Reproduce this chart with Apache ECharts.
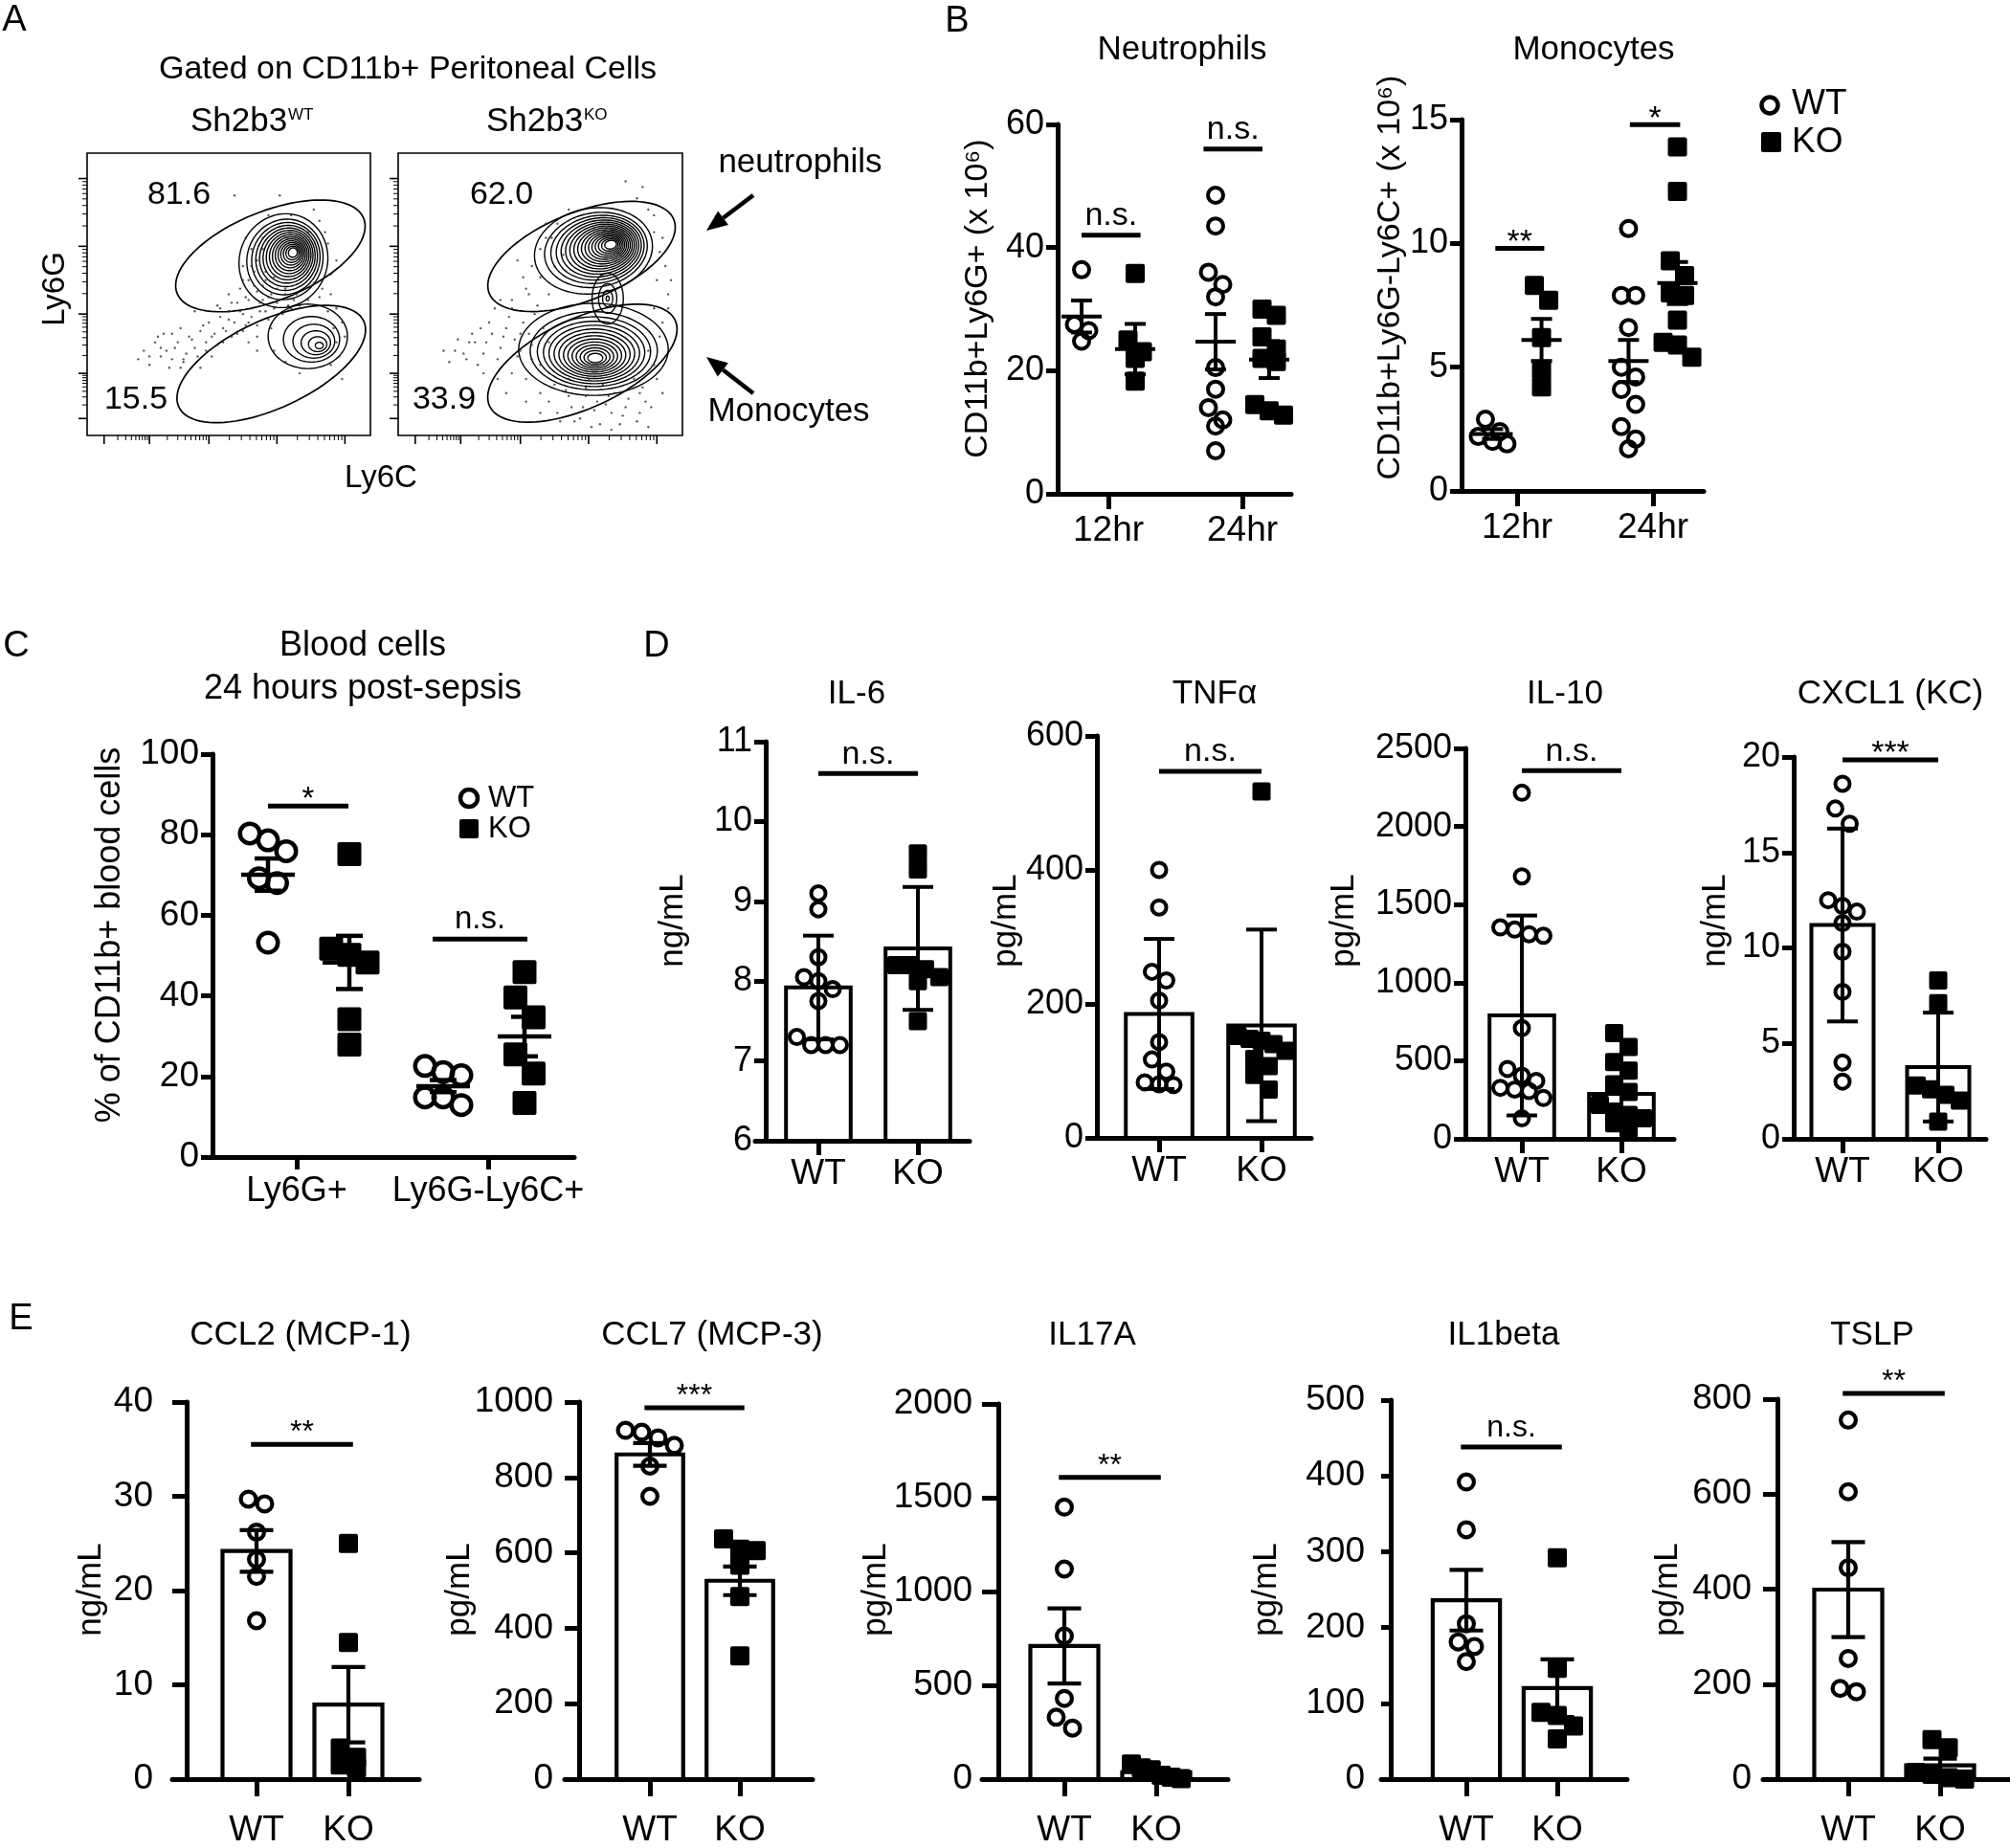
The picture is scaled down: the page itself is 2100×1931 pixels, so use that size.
<!DOCTYPE html>
<html><head><meta charset="utf-8">
<script src="https://cdn.jsdelivr.net/npm/echarts@6.0.0/dist/echarts.min.js"></script>
<style>html,body{margin:0;padding:0;background:#fff;}#chart{width:2100px;height:1931px;}</style>
</head><body><div id="chart"></div>
<script>
// ======================= DATA =======================
// Panel A – flow cytometry (display units 0–100 on Ly6C / Ly6G)
const flowTitle = 'Gated on CD11b+ Peritoneal Cells';
const flowGenotypes = ['WT', 'KO'];
const gatePctWT = ['81.6', '15.5'];
const gatePctKO = ['62.0', '33.9'];
// gates: [cx, cy, semiMajor, semiMinor, angleDeg]
const gatesWT = [[64.7, 63.6, 35.5, 15.8, 22], [65.0, 25.3, 36.0, 15.6, 25]];
const gatesKO = [[64.5, 63.4, 35.0, 15.6, 22], [64.8, 25.6, 36.0, 15.8, 25]];
// density clusters: [cx, cy, rx, ry, angleDeg, peakX, peakY, contourLevels]
const clustersWT = [[69.3, 61.9, 15.5, 16.8, -22, 73.0, 65.1, 15], [77.9, 35.1, 14.0, 11.4, 0, 82.4, 31.5, 6]];
const clustersKO = [[68.7, 65.4, 20.9, 15.1, 10, 75.4, 67.8, 17], [68.7, 30.5, 26.3, 16.3, 0, 69.4, 27.1, 14], [73.7, 48.5, 5.5, 9.0, 0, 73.7, 48.5, 4]];
const eventsWT = [[28,30],[30,27],[32,33],[35,29],[36,35],[38,31],[40,37],[42,33],[43,40],[45,36],[47,42],[48,38],[50,44],[52,40],[53,47],[55,43],[56,49],[58,45],[60,51],[61,47],[62,53],[64,49],[46,46],[50,50],[54,52],[57,55],[59,58],[63,58],[66,56],[70,52],[74,50],[78,48],[82,49],[86,50],[88,45],[90,40],[91,35],[89,28],[86,25],[70,26],[66,30],[60,35],[62,70],[58,66],[64,78],[80,80],[84,72],[88,62],[86,57],[55,60],[52,85],[68,85],[90,20],[75,22],[33,24],[25,35],[22,28],[38,44],[44,28],[40,24],[30,36],[26,31],[34,27],[48,33],[57,40],[63,44],[67,47],[72,45],[55,37],[51,35],
  [18,27],[20,30],[22,25],[24,33],[26,28],[27,36],[29,24],[31,31],[33,38],[34,26],[37,34],[39,28],[41,39],[42,30],[44,35],[46,32],[47,45],[49,37],[50,41],[51,47],[53,36],[54,44],[56,39],[57,48],[58,42],[59,53],[60,39],[61,44],[62,48],[63,55],[64,41],[65,50],[66,45],[67,52],[68,48],[69,43],[70,50],[71,46],[73,48],[75,46],[77,52],[80,54],[83,52],[85,44],[87,38],[88,33],[55,55],[58,60],[60,62],[62,66],[78,72],[82,76],[85,68],[72,78],[68,74],[56,70],[65,38],[60,30],[57,33]];
const eventsKO = [[20,30],[24,27],[27,33],[30,29],[33,36],[36,31],[38,38],[41,34],[44,40],[46,36],[48,43],[51,38],[34,45],[40,48],[45,52],[50,56],[55,60],[58,64],[52,70],[56,75],[60,80],[88,80],[90,72],[92,65],[91,55],[90,45],[92,35],[90,25],[85,15],[80,10],[75,8],[70,12],[65,10],[60,14],[55,18],[50,15],[45,20],[40,22],[62,5],[78,4],[85,8],[93,15],[35,20],[30,22],[45,12],[68,3],[95,50],[94,60],[86,88],[80,90],[50,25],[38,15],[56,8],[72,18],[88,30],[25,33],[29,38],[43,30],[53,33],[47,27],[58,22],[66,17],[83,20],[87,12],[74,14],
  [16,30],[18,26],[21,34],[23,29],[26,36],[28,25],[31,33],[32,40],[35,27],[37,35],[39,42],[42,28],[43,36],[47,32],[49,46],[53,50],[50,8],[53,12],[57,5],[59,16],[61,10],[64,6],[66,14],[69,9],[71,4],[73,11],[76,15],[79,7],[81,13],[84,5],[86,17],[89,10],[91,20],[94,28],[93,40],[95,45],[96,55],[93,70],[90,78],[84,84],[47,60],[44,56],[42,62],[50,66],[54,70],[52,75],[46,50],[40,45],[36,48],[60,20],[67,20],[75,2],[88,3]];
const flowTickPos = [6, 22, 43, 67, 91];

// Panel B – peritoneal counts (x 10^6), mean ± SEM
const timeCats = ['12hr', '24hr'];
const neuWT12 = [36.4, 27.5, 26.5, 24.8];
const neuKO12 = [35.8, 25, 23.1, 22, 18.3];
const neuWT24 = [48.5, 43.5, 36, 34, 32, 20.5, 17, 14, 12, 11, 7];
const neuKO24 = [30, 29, 25.5, 23.5, 22, 21.5, 14.5, 13.5, 12.8];
const neuWTMean = [28.8, 24.7], neuWTSem = [2.6, 4.5];
const neuKOMean = [23.5, 21.8], neuKOSem = [4.1, 3.0];
const neuSig = ['n.s.', 'n.s.'], neuSigLevel = [42, 56];
const monWT12 = [2.9, 2.4, 2.2, 2.0, 1.9];
const monKO12 = [8.3, 7.7, 6.2, 4.9, 4.2];
const monWT24 = [10.6, 7.9, 7.9, 6.6, 5.0, 4.6, 4.1, 3.5, 2.6, 2.1, 1.7];
const monKO24 = [13.9, 12.1, 9.3, 8.7, 8.0, 7.9, 6.9, 6.0, 5.9, 5.4];
const monWTMean = [2.3, 5.25], monWTSem = [0.2, 0.85];
const monKOMean = [6.1, 8.4], monKOSem = [0.85, 0.85];
const monSig = ['**', '*'], monSigLevel = [9.8, 14.8];

// Panel C – blood cells, % of CD11b+, mean ± SEM
const bloodCats = ['Ly6G+', 'Ly6G-Ly6C+'];
const bloodWT1 = [80.3, 78.6, 75.9, 69.2, 68.0, 53.2];
const bloodKO1 = [75.2, 51.7, 50.2, 48.3, 34.2, 27.9];
const bloodWT2 = [22.6, 21.1, 20.3, 14.8, 14.8, 12.9];
const bloodKO2 = [45.9, 39.6, 34.7, 25.5, 20.7, 13.4];
const bloodWTMean = [70.1, 17.6], bloodWTSem = [4.0, 1.5];
const bloodKOMean = [48.3, 29.9], bloodKOSem = [6.6, 4.9];
const bloodSig = ['*', 'n.s.'], bloodSigLevel = [87.1, 54.1];

// Panel D – serum cytokines, mean ± SD
const genoCats = ['WT', 'KO'];
const dTitles = ['IL-6', 'TNF\u03b1', 'IL-10', 'CXCL1 (KC)'];
const dUnits = ['ng/mL', 'pg/mL', 'pg/mL', 'ng/mL'];
const il6WT = [9.1, 8.9, 8.3, 8.05, 8.0, 7.9, 7.75, 7.3, 7.2, 7.2, 7.2];
const il6KO = [9.6, 9.4, 8.2, 8.2, 8.15, 8.05, 8.0, 7.5];
const il6Mean = [7.92, 8.41], il6SD = [0.65, 0.77];
const tnfWT = [400, 344, 248, 235, 205, 143, 117, 99, 83, 80, 79];
const tnfKO = [517, 152, 148, 145, 140, 130, 118, 107, 94, 72];
const tnfMean = [185, 168], tnfSD = [112, 143];
const il10WT = [2216, 1681, 1354, 1340, 1310, 1300, 709, 448, 404, 371, 327, 316, 306, 262, 131];
const il10KO = [677, 589, 491, 437, 349, 300, 218, 175, 153, 131, 100, 65];
const il10Mean = [790, 288], il10SD = [640, 192];
const cxclWT = [18.6, 17.3, 16.5, 12.5, 12.2, 11.9, 11.3, 9.8, 7.7, 4.0, 3.0];
const cxclKO = [8.3, 7.1, 2.8, 2.6, 2.3, 2.0, 0.9];
const cxclMean = [11.2, 3.76], cxclSD = [5.05, 2.85];
const dSig = ['n.s.', 'n.s.', 'n.s.', '***'];
const dSigLevel = [10.6, 547, 2358, 19.85];
const dYTop = [11, 600, 2500, 20], dYBottom = [6, 0, 0, 0], dYStep = [1, 200, 500, 5];

// Panel E – serum cytokines, mean ± SEM
const eTitles = ['CCL2 (MCP-1)', 'CCL7 (MCP-3)', 'IL17A', 'IL1beta', 'TSLP'];
const eUnits = ['ng/mL', 'pg/mL', 'pg/mL', 'pg/mL', 'pg/mL'];
const ccl2WT = [29.7, 29.2, 26.2, 23.3, 21.5, 16.8];
const ccl2KO = [25, 14.5, 3.3, 2.3, 1.5, 1.2];
const ccl2Mean = [24.2, 7.9], ccl2SEM = [2.2, 4.0];
const ccl7WT = [925, 920, 905, 885, 830, 750];
const ccl7KO = [637, 610, 606, 567, 484, 327];
const ccl7Mean = [861, 526], ccl7SEM = [30, 38];
const il17WT = [1450, 1120, 763, 430, 330, 272];
const il17KO = [80, 60, 50, 20, 10, 2];
const il17Mean = [710, 37], il17SEM = [200, 12];
const il1bWT = [392, 329, 205, 181, 175, 155];
const il1bKO = [292, 146, 88, 84, 70, 53];
const il1bMean = [236, 120], il1bSEM = [40, 38];
const tslpWT = [756, 605, 445, 254, 191, 184];
const tslpKO = [83, 66, 14, 10, 3, 0];
const tslpMean = [399, 29], tslpSEM = [100, 14];
const eSig = ['**', '***', '**', 'n.s.', '**'];
const eSigLevel = [35.5, 985, 1608, 438, 812];
const eYTop = [40, 1000, 2000, 500, 800], eYStep = [10, 200, 500, 100, 200];

// ======================= BUILD =======================
const FONT = '"Liberation Sans", Arial, Helvetica, sans-serif';
const grids = [], xAxis = [], yAxis = [], series = [], graphic = [];

function txt(x, y, s, size, o) {
  o = o || {};
  const al = o.align || 'center';
  graphic.push({type: 'text', x: x, y: y, rotation: o.rot || 0, silent: true, z: 100,
    style: {text: s, fontSize: size, fontFamily: FONT, fill: '#000',
      align: al, verticalAlign: 'middle', textAlign: al, textVerticalAlign: 'middle'}});
}

function addPlot(L, Y, ticks, labels, S) {
  const gi = grids.length;
  const unit = (L.t2 - L.t1) / (ticks[1] - ticks[0]);
  const xmin = ticks[0] - (L.t1 - L.xs) / unit;
  const xmax = xmin + (L.xe - L.xs) / unit;
  grids.push({left: L.xs, top: L.top, width: L.xe - L.xs, height: L.bottom - L.top});
  xAxis.push({type: 'value', gridIndex: gi, min: xmin, max: xmax, position: 'bottom',
    axisLine: {show: true, onZero: false, lineStyle: {color: '#000', width: S.axisW}},
    axisTick: {show: true, customValues: ticks, length: S.xTickLen, lineStyle: {color: '#000', width: S.axisW}},
    axisLabel: {show: true, customValues: ticks, margin: S.xLabMargin, fontSize: S.xLabSize, fontFamily: FONT, color: '#000',
      formatter: function (v) { const i = ticks.findIndex(t => Math.abs(t - v) < 1e-6); return i >= 0 ? labels[i] : ''; }},
    splitLine: {show: false}});
  yAxis.push({type: 'value', gridIndex: gi, min: Y.min, max: Y.max, interval: Y.interval, offset: -(L.ax - L.xs),
    axisLine: {show: true, onZero: false, lineStyle: {color: '#000', width: S.axisW}},
    axisTick: {show: true, length: L.yTick || S.yTickLen, lineStyle: {color: '#000', width: S.axisW}},
    axisLabel: {margin: L.yMargin || S.yLabMargin, fontSize: S.yLabSize, fontFamily: FONT, color: '#000',
      formatter: function (v) { return String(Math.round(v * 1000) / 1000); }},
    splitLine: {show: false}});
  return gi;
}

function spreadOffsets(ys, d, spacing, maxSpan) {
  const idx = ys.map((y, i) => i).sort((a, b) => ys[a] - ys[b]);
  const off = new Array(ys.length).fill(0);
  let row = [], rowY = null;
  const flush = () => {
    const n = row.length;
    const sp = n > 1 ? Math.min(spacing, maxSpan / (n - 1)) : 0;
    row.forEach((id, k) => { off[id] = (k - (n - 1) / 2) * sp; });
    row = [];
  };
  idx.forEach(id => {
    if (row.length && ys[id] - rowY > d * 0.85) flush();
    if (!row.length) rowY = ys[id];
    row.push(id);
  });
  flush();
  return off;
}

function pointEls(api, x, vals, kind, S) {
  const pix = vals.map(v => api.coord([x, v]));
  const off = spreadOffsets(pix.map(p => p[1]), S.d, S.spacing, S.maxSpan);
  return pix.map((p, i) => kind === 'WT'
    ? {type: 'circle', shape: {cx: p[0] + off[i], cy: p[1], r: (S.d - S.lw) / 2}, style: {fill: 'none', stroke: '#000', lineWidth: S.lw}}
    : {type: 'rect', shape: {x: p[0] + off[i] - S.d / 2, y: p[1] - S.d / 2, width: S.d, height: S.d, r: 2}, style: {fill: '#000'}});
}

function errEls(api, x, mean, err, S) {
  const c = api.coord([x, mean]), t = api.coord([x, mean + err]), b = api.coord([x, mean - err]);
  const h = S.capW / 2, st = {stroke: '#000', lineWidth: S.lw};
  return [
    {type: 'line', shape: {x1: c[0], y1: t[1], x2: c[0], y2: b[1]}, style: st},
    {type: 'line', shape: {x1: c[0] - h, y1: t[1], x2: c[0] + h, y2: t[1]}, style: st},
    {type: 'line', shape: {x1: c[0] - h, y1: b[1], x2: c[0] + h, y2: b[1]}, style: st}];
}

function addItems(gi, items, S) {
  series.push({type: 'custom', coordinateSystem: 'cartesian2d', xAxisIndex: gi, yAxisIndex: gi, clip: false, silent: true, z: 5,
    data: items.map(it => [it.x !== undefined ? it.x : it.x1, it.mean !== undefined ? it.mean : it.level]),
    renderItem: function (params, api) {
      const it = items[params.dataIndex];
      let ch = [];
      if (it.sig !== undefined) {
        const a = api.coord([it.x1, it.level]), b = api.coord([it.x2, it.level]);
        const star = it.sig.indexOf('*') >= 0;
        ch.push({type: 'line', shape: {x1: a[0], y1: a[1], x2: b[0], y2: b[1]}, style: {stroke: '#000', lineWidth: 5}});
        ch.push({type: 'text', style: {text: it.sig, x: (a[0] + b[0]) / 2, y: a[1] + (star ? S.starOff : -20), fontSize: S.sigSize, fontFamily: FONT, fill: '#000',
          align: 'center', verticalAlign: 'middle', textAlign: 'center', textVerticalAlign: 'middle'}});
      } else if (S.bar) {
        const c = api.coord([it.x, it.mean]), base = api.coord([it.x, it.base]);
        const bw = api.size([1, 0])[0] * S.barFrac;
        ch.push({type: 'rect', shape: {x: c[0] - bw / 2, y: c[1], width: bw, height: base[1] - c[1]}, style: {fill: '#fff', stroke: '#000', lineWidth: S.lw}});
        ch = ch.concat(errEls(api, it.x, it.mean, it.err, S));
        ch = ch.concat(pointEls(api, it.x, it.vals, it.kind, S));
      } else {
        ch = ch.concat(pointEls(api, it.x, it.vals, it.kind, S));
        const c = api.coord([it.x, it.mean]);
        ch.push({type: 'line', shape: {x1: c[0] - S.meanW / 2, y1: c[1], x2: c[0] + S.meanW / 2, y2: c[1]}, style: {stroke: '#000', lineWidth: S.lw}});
        ch = ch.concat(errEls(api, it.x, it.mean, it.err, S));
      }
      return {type: 'group', children: ch};
    }});
}

// ---------- Panel A ----------
function ellipsePoints(api, cx, cy, a, b, deg) {
  const t = deg * Math.PI / 180, ct = Math.cos(t), st = Math.sin(t), pts = [];
  for (let i = 0; i < 96; i++) {
    const u = 2 * Math.PI * i / 96, dx = a * Math.cos(u), dy = b * Math.sin(u);
    pts.push(api.coord([cx + dx * ct - dy * st, cy + dx * st + dy * ct]));
  }
  return pts;
}
function addFlow(L, gates, clusters, events) {
  const gi = grids.length;
  grids.push({left: L.x, top: L.y, width: L.w, height: L.h, show: true, borderColor: '#000', borderWidth: 1.6, backgroundColor: 'transparent'});
  xAxis.push({type: 'value', gridIndex: gi, min: 0, max: 100, show: true, axisLine: {show: false}, axisTick: {show: false}, axisLabel: {show: false}, splitLine: {show: false}});
  yAxis.push({type: 'value', gridIndex: gi, min: 0, max: 100, show: true, axisLine: {show: false}, axisTick: {show: false}, axisLabel: {show: false}, splitLine: {show: false}});
  series.push({type: 'scatter', xAxisIndex: gi, yAxisIndex: gi, symbolSize: 2.4, itemStyle: {color: '#333'}, silent: true, data: events});
  series.push({type: 'custom', coordinateSystem: 'cartesian2d', xAxisIndex: gi, yAxisIndex: gi, clip: false, silent: true,
    data: [[50, 50]],
    renderItem: function (params, api) {
      const ch = [];
      clusters.forEach(c => {
        const [cx, cy, rx, ry, deg, px, py, n] = c;
        for (let j = 0; j < n; j++) {
          const k = n > 1 ? 1 - 0.9 * Math.pow(j / (n - 1), 0.7) : 1;
          ch.push({type: 'polygon', shape: {points: ellipsePoints(api, px + (cx - px) * k, py + (cy - py) * k, rx * k, ry * k, deg)},
            style: {fill: 'none', stroke: '#000', lineWidth: 1.4}});
        }
      });
      gates.forEach(g => ch.push({type: 'polygon', shape: {points: ellipsePoints(api, g[0], g[1], g[2], g[3], g[4])}, style: {fill: 'none', stroke: '#000', lineWidth: 1.7}}));
      const tick = (v, len, lw) => {
        const px = api.coord([v, 0]), py = api.coord([0, v]);
        ch.push({type: 'line', shape: {x1: px[0], y1: px[1], x2: px[0], y2: px[1] + len}, style: {stroke: '#000', lineWidth: lw}});
        ch.push({type: 'line', shape: {x1: py[0], y1: py[1], x2: py[0] - len, y2: py[1]}, style: {stroke: '#000', lineWidth: lw}});
      };
      flowTickPos.forEach(v => tick(v, 9, 1.6));
      for (let d = 0; d < flowTickPos.length - 1; d++) {
        const a = flowTickPos[d], b = flowTickPos[d + 1];
        for (let m = 2; m <= 9; m++) tick(a + (b - a) * Math.log10(m), 5, 1);
      }
      return {type: 'group', children: ch};
    }});
}
addFlow({x: 91, y: 160, w: 296, h: 295}, gatesWT, clustersWT, eventsWT);
addFlow({x: 416, y: 160, w: 297, h: 295}, gatesKO, clustersKO, eventsKO);

txt(15, 22, 'A', 38);
txt(426, 73, flowTitle, 34);
txt(199, 127, 'Sh2b3', 35, {align: 'left'});
txt(301, 120, flowGenotypes[0], 17, {align: 'left'});
txt(508, 127, 'Sh2b3', 35, {align: 'left'});
txt(610, 120, flowGenotypes[1], 17, {align: 'left'});
txt(187, 204, gatePctWT[0], 34); txt(142, 418, gatePctWT[1], 34);
txt(524, 204, gatePctKO[0], 34); txt(464, 418, gatePctKO[1], 34);
txt(58, 302, 'Ly6G', 33, {rot: Math.PI / 2});
txt(398, 500, 'Ly6C', 33);
txt(836, 170, 'neutrophils', 35);
txt(824, 430, 'Monocytes', 35);
function arrow(x1, y1, x2, y2) {
  const dx = x2 - x1, dy = y2 - y1, L = Math.hypot(dx, dy), ux = dx / L, uy = dy / L;
  const hl = 22, hw = 9, bx = x2 - ux * hl, by = y2 - uy * hl;
  graphic.push({type: 'line', silent: true, shape: {x1: x1, y1: y1, x2: bx, y2: by}, style: {stroke: '#000', lineWidth: 4.5}});
  graphic.push({type: 'polygon', silent: true, shape: {points: [[x2, y2], [bx - uy * hw, by + ux * hw], [bx + uy * hw, by - ux * hw]]}, style: {fill: '#000'}});
}
arrow(787, 204, 738, 241);
arrow(787, 411, 738, 373);

// ---------- Panel B ----------
const SB = {axisW: 5, xTickLen: 16, yTickLen: 12, xLabMargin: 20, xLabSize: 37, yLabMargin: 14, yLabSize: 36, d: 20, lw: 4, meanW: 42, capW: 22, spacing: 15, maxSpan: 45, sigSize: 34, starOff: -6};
let gi = addPlot({xs: 1098, ax: 1105, xe: 1349, top: 130, bottom: 516, t1: 1158, t2: 1298}, {min: 0, max: 60, interval: 20}, [1, 2], timeCats, SB);
addItems(gi, [
  {kind: 'WT', x: 0.8, vals: neuWT12, mean: neuWTMean[0], err: neuWTSem[0]},
  {kind: 'KO', x: 1.2, vals: neuKO12, mean: neuKOMean[0], err: neuKOSem[0]},
  {kind: 'WT', x: 1.8, vals: neuWT24, mean: neuWTMean[1], err: neuWTSem[1]},
  {kind: 'KO', x: 2.2, vals: neuKO24, mean: neuKOMean[1], err: neuKOSem[1]},
  {sig: neuSig[0], x1: 0.8, x2: 1.24, level: neuSigLevel[0]},
  {sig: neuSig[1], x1: 1.71, x2: 2.15, level: neuSigLevel[1]}], SB);
gi = addPlot({xs: 1520, ax: 1527, xe: 1780, top: 125, bottom: 513, t1: 1585, t2: 1727}, {min: 0, max: 15, interval: 5}, [1, 2], timeCats, SB);
addItems(gi, [
  {kind: 'WT', x: 0.82, vals: monWT12, mean: monWTMean[0], err: monWTSem[0]},
  {kind: 'KO', x: 1.18, vals: monKO12, mean: monKOMean[0], err: monKOSem[0]},
  {kind: 'WT', x: 1.82, vals: monWT24, mean: monWTMean[1], err: monWTSem[1]},
  {kind: 'KO', x: 2.18, vals: monKO24, mean: monKOMean[1], err: monKOSem[1]},
  {sig: monSig[0], x1: 0.84, x2: 1.2, level: monSigLevel[0]},
  {sig: monSig[1], x1: 1.83, x2: 2.2, level: monSigLevel[1]}], SB);
txt(1000, 23, 'B', 38);
txt(1235, 52, 'Neutrophils', 35);
txt(1665, 52, 'Monocytes', 35);
txt(1022, 312, 'CD11b+Ly6G+ (x 10\u2076)', 34, {rot: Math.PI / 2});
txt(1453, 290, 'CD11b+Ly6G-Ly6C+ (x 10\u2076)', 34, {rot: Math.PI / 2});
graphic.push({type: 'circle', silent: true, shape: {cx: 1849, cy: 110, r: 8.5}, style: {fill: 'none', stroke: '#000', lineWidth: 4.5}});
graphic.push({type: 'rect', silent: true, shape: {x: 1840, y: 138, width: 21, height: 21, r: 2}, style: {fill: '#000'}});
txt(1872, 109, 'WT', 37, {align: 'left'});
txt(1872, 149, 'KO', 37, {align: 'left'});

// ---------- Panel C ----------
const SC = {axisW: 5, xTickLen: 13, yTickLen: 12, xLabMargin: 18, xLabSize: 36, yLabMargin: 14, yLabSize: 37, d: 25, lw: 4.5, meanW: 56, capW: 28, spacing: 19, maxSpan: 60, sigSize: 33, starOff: -6};
gi = addPlot({xs: 213, ax: 222, xe: 600, top: 788, bottom: 1209, t1: 310, t2: 510}, {min: 0, max: 100, interval: 20}, [1, 2], bloodCats, SC);
addItems(gi, [
  {kind: 'WT', x: 0.85, vals: bloodWT1, mean: bloodWTMean[0], err: bloodWTSem[0]},
  {kind: 'KO', x: 1.275, vals: bloodKO1, mean: bloodKOMean[0], err: bloodKOSem[0]},
  {kind: 'WT', x: 1.765, vals: bloodWT2, mean: bloodWTMean[1], err: bloodWTSem[1]},
  {kind: 'KO', x: 2.19, vals: bloodKO2, mean: bloodKOMean[1], err: bloodKOSem[1]},
  {sig: bloodSig[0], x1: 0.85, x2: 1.27, level: bloodSigLevel[0]},
  {sig: bloodSig[1], x1: 1.71, x2: 2.205, level: bloodSigLevel[1]}], SC);
txt(17, 676, 'C', 38);
txt(379, 675, 'Blood cells', 36);
txt(379, 720, '24 hours post-sepsis', 36);
txt(115, 977, '% of CD11b+ blood cells', 36, {rot: Math.PI / 2});
graphic.push({type: 'circle', silent: true, shape: {cx: 490, cy: 834, r: 9}, style: {fill: 'none', stroke: '#000', lineWidth: 4.5}});
graphic.push({type: 'rect', silent: true, shape: {x: 480, y: 856, width: 20, height: 20, r: 2}, style: {fill: '#000'}});
txt(510, 834, 'WT', 31, {align: 'left'});
txt(510, 866, 'KO', 31, {align: 'left'});

// ---------- Panel D ----------
const SD = {axisW: 5, xTickLen: 15, yTickLen: 12, xLabMargin: 16, xLabSize: 37, yLabMargin: 14, yLabSize: 36, d: 19, lw: 4, capW: 32, spacing: 15, maxSpan: 50, sigSize: 34, starOff: -6, bar: true, barFrac: 0.65};
const LD = [
  {xs: 789, ax: 800, xe: 1013, top: 775, bottom: 1192, t1: 855, t2: 959},
  {xs: 1137, ax: 1146, xe: 1370, top: 769, bottom: 1189, t1: 1211, t2: 1318},
  {xs: 1522, ax: 1531, xe: 1749, top: 782, bottom: 1190, t1: 1590, t2: 1694},
  {xs: 1865, ax: 1874, xe: 2075, top: 791, bottom: 1190, t1: 1925, t2: 2025}];
const dWT = [il6WT, tnfWT, il10WT, cxclWT], dKO = [il6KO, tnfKO, il10KO, cxclKO];
const dMean = [il6Mean, tnfMean, il10Mean, cxclMean], dErr = [il6SD, tnfSD, il10SD, cxclSD];
const dLabX = [703, 1051, 1404, 1792], dTitleX = [895, 1269, 1635, 1975];
for (let p = 0; p < 4; p++) {
  const g = addPlot(LD[p], {min: dYBottom[p], max: dYTop[p], interval: dYStep[p]}, [1, 2], genoCats, SD);
  addItems(g, [
    {kind: 'WT', x: 1, vals: dWT[p], mean: dMean[p][0], err: dErr[p][0], base: dYBottom[p]},
    {kind: 'KO', x: 2, vals: dKO[p], mean: dMean[p][1], err: dErr[p][1], base: dYBottom[p]},
    {sig: dSig[p], x1: 1, x2: 2, level: dSigLevel[p]}], SD);
  txt(dTitleX[p], 725, dTitles[p], 35);
  txt(dLabX[p], 962, dUnits[p], 35, {rot: Math.PI / 2});
}
txt(686, 676, 'D', 38);

// ---------- Panel E ----------
const SE = {axisW: 5, xTickLen: 18, yTickLen: 15, xLabMargin: 35, xLabSize: 37, yLabMargin: 27, yLabSize: 37, d: 20, lw: 4.2, capW: 35, spacing: 17, maxSpan: 52, sigSize: 32, starOff: -12, bar: true, barFrac: 0.74};
const LE = [
  {xs: 180, ax: 195, xe: 438, top: 1465, bottom: 1867, t1: 268, t2: 364, yMargin: 35},
  {xs: 590, ax: 605, xe: 849, top: 1465, bottom: 1868, t1: 679, t2: 773},
  {xs: 1026, ax: 1043, xe: 1283, top: 1467, bottom: 1869, t1: 1112, t2: 1208, yTick: 17},
  {xs: 1443, ax: 1453, xe: 1700, top: 1463, bottom: 1866, t1: 1532, t2: 1627, yTick: 10},
  {xs: 1842, ax: 1857, xe: 2100, top: 1462, bottom: 1866, t1: 1931, t2: 2027}];
const eWT = [ccl2WT, ccl7WT, il17WT, il1bWT, tslpWT], eKO = [ccl2KO, ccl7KO, il17KO, il1bKO, tslpKO];
const eMean = [ccl2Mean, ccl7Mean, il17Mean, il1bMean, tslpMean], eErr = [ccl2SEM, ccl7SEM, il17SEM, il1bSEM, tslpSEM];
const eLabX = [95, 480, 915, 1323, 1742], eTitleX = [314, 744, 1141, 1571, 1956];
for (let p = 0; p < 5; p++) {
  const g = addPlot(LE[p], {min: 0, max: eYTop[p], interval: eYStep[p]}, [1, 2], genoCats, SE);
  addItems(g, [
    {kind: 'WT', x: 1, vals: eWT[p], mean: eMean[p][0], err: eErr[p][0], base: 0},
    {kind: 'KO', x: 2, vals: eKO[p], mean: eMean[p][1], err: eErr[p][1], base: 0},
    {sig: eSig[p], x1: 0.94, x2: 2.05, level: eSigLevel[p]}], SE);
  txt(eTitleX[p], 1395, eTitles[p], 35);
  txt(eLabX[p], 1661, eUnits[p], 35, {rot: Math.PI / 2});
}
txt(22, 1379, 'E', 38);

const chart = echarts.init(document.getElementById('chart'), null, {renderer: 'canvas'});
chart.setOption({animation: false, backgroundColor: '#fff', grid: grids, xAxis: xAxis, yAxis: yAxis, series: series, graphic: {elements: graphic}});
</script></body></html>
